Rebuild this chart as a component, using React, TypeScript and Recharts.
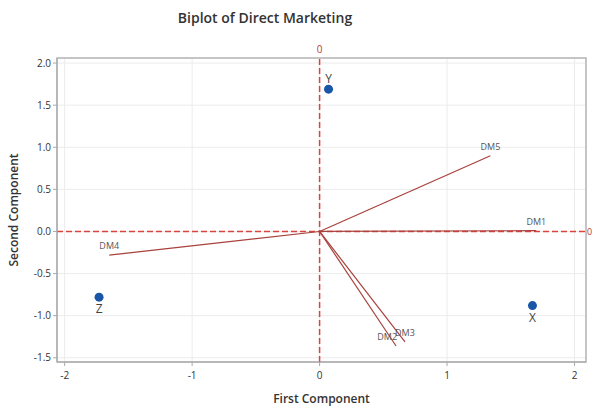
import {
  ScatterChart,
  Scatter,
  XAxis,
  YAxis,
  CartesianGrid,
  ReferenceLine,
  ReferenceArea,
  LabelList,
} from "recharts";

// scores (observations)
const scoreNames = ["X", "Y", "Z"];
const scorePC1 = [1.67, 0.07, -1.73];
const scorePC2 = [-0.88, 1.69, -0.78];

// loadings (variables)
const loadingNames = ["DM1", "DM2", "DM3", "DM4", "DM5"];
const loadingPC1 = [1.7, 0.6, 0.67, -1.65, 1.34];
const loadingPC2 = [0.01, -1.36, -1.31, -0.28, 0.9];

const xTicks = [-2, -1, 0, 1, 2];
const yTicks = [-1.5, -1.0, -0.5, 0.0, 0.5, 1.0, 1.5, 2.0];

const X_DOMAIN = [-2.06, 2.09];
const Y_DOMAIN = [-1.55, 2.06];

const scores = scoreNames.map((name, i) => ({
  x: scorePC1[i],
  y: scorePC2[i],
  name,
}));

const vectors = loadingNames.map((name, i) => [
  { x: 0, y: 0, name: "" },
  { x: loadingPC1[i], y: loadingPC2[i], name },
]);

const font = "'Open Sans', 'Noto Sans', sans-serif";
const noDot = () => <g />;

// DM2 sits almost under DM3, push it to the left of its tip
const vectorLabel = (props: any) => {
  const { x, y, width, height, value } = props;
  if (!value) return null;
  const cx = x + (width || 0) / 2;
  const cy = y + (height || 0) / 2;
  const left = value === "DM2";
  return (
    <text
      x={left ? cx + 1 : cx}
      y={cy - 6}
      textAnchor={left ? "end" : "middle"}
      fontSize={9}
      fill="#555"
      fontFamily={font}
    >
      {value}
    </text>
  );
};

const App = () => (
  <div
    style={{
      position: "absolute",
      left: 0,
      top: 0,
      width: 594,
      height: 410,
      background: "#fff",
      fontFamily: font,
    }}
  >
    <div
      style={{
        position: "absolute",
        top: 8,
        left: 0,
        width: 530,
        textAlign: "center",
        fontSize: 14,
        fontWeight: 600,
        color: "#333",
      }}
    >
      Biplot of Direct Marketing
    </div>
    <ScatterChart
      width={594}
      height={410}
      margin={{ top: 58, right: 8, bottom: 0, left: 0 }}
    >
      <CartesianGrid stroke="#ececec" />
      <XAxis
        type="number"
        dataKey="x"
        domain={X_DOMAIN}
        ticks={xTicks}
        allowDataOverflow
        height={48}
        tickSize={4}
        tickMargin={6}
        tick={{ fontSize: 10, fill: "#333", fontFamily: font }}
        stroke="#aaa"
        label={{
          value: "First Component",
          position: "insideBottom",
          offset: 7,
          style: { fontSize: 12, fontWeight: 600, fill: "#333", fontFamily: font },
        }}
      />
      <YAxis
        type="number"
        dataKey="y"
        domain={Y_DOMAIN}
        ticks={yTicks}
        allowDataOverflow
        width={57}
        tickSize={4}
        tickFormatter={(v: number) => v.toFixed(1)}
        tick={{ fontSize: 10, fill: "#333", fontFamily: font }}
        stroke="#aaa"
        label={{
          value: "Second Component",
          angle: -90,
          position: "insideLeft",
          offset: 14,
          style: {
            fontSize: 12,
            fontWeight: 600,
            fill: "#333",
            fontFamily: font,
            textAnchor: "middle",
          },
        }}
      />
      <ReferenceArea
        x1={X_DOMAIN[0]}
        x2={X_DOMAIN[1]}
        y1={Y_DOMAIN[0]}
        y2={Y_DOMAIN[1]}
        fill="none"
        stroke="#b5b5b5"
        strokeWidth={1.5}
      />
      <ReferenceLine
        x={0}
        stroke="#d9443f"
        strokeWidth={1.5}
        strokeDasharray="6 3"
        label={{ value: "0", position: "top", fill: "#c0392b", fontSize: 10 }}
      />
      <ReferenceLine
        y={0}
        stroke="#d9443f"
        strokeWidth={1.5}
        strokeDasharray="6 3"
        label={{ value: "0", position: "right", offset: 1, fill: "#c0392b", fontSize: 9 }}
      />
      {vectors.map((v, i) => (
        <Scatter
          key={loadingNames[i]}
          data={v}
          line={{ stroke: "#a8413c", strokeWidth: 1.2 }}
          shape={noDot}
          isAnimationActive={false}
        >
          <LabelList dataKey="name" content={vectorLabel} />
        </Scatter>
      ))}
      <Scatter data={scores} fill="#1a56a8" isAnimationActive={false}>
        <LabelList
          dataKey="name"
          content={(props: any) => {
            const { x, y, width, height, value } = props;
            const cx = x + width / 2;
            const cy = y + height / 2;
            const above = value === "Y";
            return (
              <text
                x={cx}
                y={above ? cy - 6 : cy + 16}
                textAnchor="middle"
                fontSize={12}
                fill="#444"
                fontFamily={font}
              >
                {value}
              </text>
            );
          }}
        />
      </Scatter>
    </ScatterChart>
  </div>
);

export default App;
